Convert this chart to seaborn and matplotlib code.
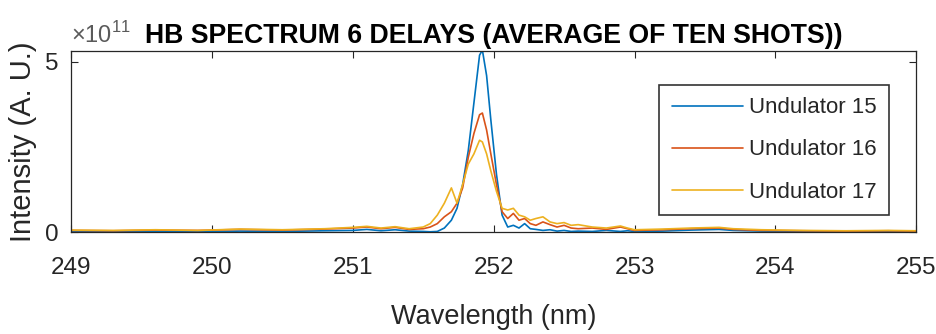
import pandas as pd
import seaborn as sns
import matplotlib
matplotlib.use("Agg")
import matplotlib.pyplot as plt

# wavelength grid (nm) shared by the three spectra
wavelength = [249.0, 249.3, 249.6, 249.9, 250.2, 250.5, 250.8, 251.0, 251.1, 251.2,
              251.3, 251.4, 251.5, 251.55, 251.6, 251.65, 251.7, 251.74, 251.78, 251.82,
              251.86, 251.9, 251.92, 251.95, 251.98, 252.02, 252.06, 252.1, 252.14, 252.18,
              252.22, 252.26, 252.3, 252.35, 252.4, 252.45, 252.5, 252.55, 252.6, 252.7,
              252.8, 252.9, 252.95, 253.0, 253.2, 253.4, 253.6, 253.7, 253.9, 254.2,
              254.5, 254.8, 255.0]

# intensities in units of 1e11 (A. U.)
und15 = [0.02, 0.01, 0.02, 0.01, 0.03, 0.02, 0.04, 0.05, 0.08, 0.04,
         0.07, 0.03, 0.02, 0.01, 0.02, 0.12, 0.35, 0.70, 1.40, 2.40,
         3.80, 5.20, 5.35, 4.60, 3.30, 1.70, 0.50, 0.15, 0.20, 0.12,
         0.25, 0.10, 0.08, 0.05, 0.07, 0.03, 0.05, 0.02, 0.03, 0.02,
         0.05, 0.02, 0.04, 0.02, 0.03, 0.06, 0.08, 0.05, 0.03, 0.02,
         0.01, 0.02, 0.01]
und16 = [0.05, 0.04, 0.06, 0.05, 0.08, 0.06, 0.09, 0.12, 0.15, 0.10,
         0.14, 0.08, 0.10, 0.15, 0.25, 0.45, 0.60, 0.85, 1.30, 2.20,
         2.90, 3.45, 3.50, 3.00, 2.30, 1.40, 0.60, 0.40, 0.55, 0.35,
         0.40, 0.25, 0.20, 0.30, 0.22, 0.15, 0.20, 0.12, 0.10, 0.12,
         0.08, 0.15, 0.10, 0.05, 0.07, 0.10, 0.12, 0.08, 0.05, 0.04,
         0.03, 0.04, 0.03]
und17 = [0.06, 0.05, 0.07, 0.05, 0.09, 0.07, 0.10, 0.14, 0.17, 0.12,
         0.16, 0.10, 0.15, 0.25, 0.50, 0.85, 1.30, 0.85, 1.40, 2.00,
         2.30, 2.70, 2.65, 2.30, 1.80, 1.20, 0.70, 0.65, 0.70, 0.50,
         0.45, 0.35, 0.40, 0.45, 0.30, 0.25, 0.28, 0.20, 0.22, 0.15,
         0.12, 0.18, 0.12, 0.07, 0.09, 0.12, 0.14, 0.10, 0.07, 0.05,
         0.04, 0.05, 0.04]

series_names = ["Undulator 15", "Undulator 16", "Undulator 17"]
colors = ["#0072BD", "#D95319", "#EDB120"]
x_ticks = [249, 250, 251, 252, 253, 254, 255]
y_ticks = [0, 5]

# long-form table for seaborn
frames = []
for name, vals in zip(series_names, [und15, und16, und17]):
    frames.append(pd.DataFrame({"Wavelength": wavelength, "Intensity": vals, "Series": name}))
data = pd.concat(frames, ignore_index=True)

sns.set_style("white")
plt.rcParams["font.family"] = ["Liberation Sans", "DejaVu Sans"]
plt.rcParams["mathtext.fontset"] = "custom"
plt.rcParams["mathtext.rm"] = "Liberation Sans"
plt.rcParams["xtick.direction"] = "in"
plt.rcParams["ytick.direction"] = "in"

fig = plt.figure(figsize=(9.36, 3.34), dpi=100)
ax = fig.add_axes([0.0759, 0.305, 0.903, 0.542])

sns.lineplot(data=data, x="Wavelength", y="Intensity", hue="Series",
             palette=dict(zip(series_names, colors)), sort=False,
             linewidth=1.2, ax=ax)

ax.set_xlim(249, 255)
ax.set_ylim(0, 5.32)
ax.set_xticks(x_ticks)
ax.set_yticks(y_ticks)
ax.tick_params(axis="both", which="both", labelsize=17.5, length=5, width=0.8,
               color="#262626", labelcolor="#262626", top=True, right=True,
               bottom=True, left=True)
ax.tick_params(axis="x", pad=18)
ax.tick_params(axis="y", pad=9)

for spine in ax.spines.values():
    spine.set_color("#262626")
    spine.set_linewidth(0.9)

ax.set_xlabel("Wavelength (nm)", fontsize=19.5, color="#262626", labelpad=18)
ax.set_ylabel("Intensity (A. U.)", fontsize=21, color="#262626", labelpad=6)
ax.set_title("HB SPECTRUM 6 DELAYS (AVERAGE OF TEN SHOTS))", fontsize=19.2,
             fontweight="bold", color="black", pad=6)
ax.text(0.0, 1.02, r"$\times10^{11}$", transform=ax.transAxes, fontsize=17,
        color="#5a5a5a", ha="left", va="bottom")

leg = ax.legend(loc="upper right", bbox_to_anchor=(0.968, 0.812), fontsize=16,
                frameon=True, fancybox=False, handlelength=3.2, handletextpad=0.3,
                labelspacing=0.95, borderpad=0.55, borderaxespad=0)
leg.get_frame().set_edgecolor("black")
leg.get_frame().set_linewidth(1.2)
for line in leg.get_lines():
    line.set_linewidth(1.2)

plt.savefig("out.png", dpi=100)
